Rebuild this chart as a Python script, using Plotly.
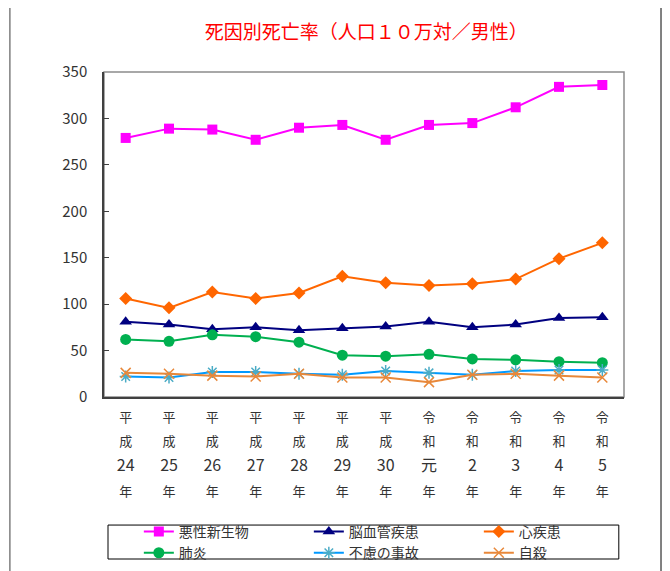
import plotly.graph_objects as go

era = ["平成", "平成", "平成", "平成", "平成", "平成", "平成", "令和", "令和", "令和", "令和", "令和"]
nums = ["24", "25", "26", "27", "28", "29", "30", "元", "2", "3", "4", "5"]
categories = [f"{e}{n}年" for e, n in zip(era, nums)]

cancer = [279, 289, 288, 277, 290, 293, 277, 293, 295, 312, 334, 336]
cerebro = [81, 78, 73, 75, 72, 74, 76, 81, 75, 78, 85, 86]
heart = [106, 96, 113, 106, 112, 130, 123, 120, 122, 127, 149, 166]
pneumonia = [62, 60, 67, 65, 59, 45, 44, 46, 41, 40, 38, 37]
accident = [22, 21, 27, 27, 25, 24, 28, 26, 24, 28, 29, 29]
suicide = [26, 25, 23, 22, 25, 21, 21, 16, 24, 25, 23, 21]

yticks = [0, 50, 100, 150, 200, 250, 300, 350]

FONT = "Noto Sans CJK JP, Noto Sans, sans-serif"

def lab(e, n):
    c = "<span style='font-size:13px'>"
    d = "<span style='font-size:16px'>"
    return f"{c}{e[0]}</span><br>{c}{e[1]}</span><br>{d}{n}</span><br>{c}年</span>"

ticktext = [lab(e, n) for e, n in zip(era, nums)]

series = [
    ("悪性新生物", cancer, "#FF00FF", "#FF00FF", "square", 10),
    ("脳血管疾患", cerebro, "#000080", "#000080", "triangle-up", 11),
    ("心疾患", heart, "#FF6600", "#FF6600", "diamond", 10),
    ("肺炎", pneumonia, "#00B050", "#00B050", "circle", 11),
    ("不慮の事故", accident, "#0099FF", "#4BACC6", "asterisk-open", 10),
    ("自殺", suicide, "#E8883A", "#E8883A", "x-thin-open", 10),
]

fig = go.Figure()
for name, vals, lc, mc, sym, sz in series:
    fig.add_trace(go.Scatter(
        x=categories, y=vals, name=name, mode="lines+markers",
        line=dict(color=lc, width=2),
        marker=dict(symbol=sym, size=sz, color=mc,
                    line=dict(color=mc, width=1.5 if "open" in sym else 0)),
    ))

# outer frame
fig.add_shape(type="line", xref="paper", yref="paper", x0=-0.181, x1=-0.181, y0=1.216, y1=-0.6,
              line=dict(color="#7f7f7f", width=1.5))
fig.add_shape(type="line", xref="paper", yref="paper", x0=-0.181, x1=1.0712, y0=1.216, y1=1.216,
              line=dict(color="#333333", width=1))
fig.add_shape(type="line", xref="paper", yref="paper", x0=1.0712, x1=1.0712, y0=1.216, y1=-0.6,
              line=dict(color="#808080", width=2))
# plot area border (top/right)
fig.add_shape(type="rect", xref="paper", yref="paper", x0=0, x1=1, y0=0, y1=1,
              line=dict(color="#8c8c8c", width=1.5), layer="below")
# legend box
fig.add_shape(type="rect", xref="paper", yref="paper", x0=0.0077, x1=0.990, y0=-0.4985, y1=-0.394,
              line=dict(color="#000000", width=1), layer="below")

fig.update_layout(
    width=662, height=563,
    margin=dict(l=96, r=46, t=64, b=174, autoexpand=False),
    paper_bgcolor="white", plot_bgcolor="white",
    font=dict(family=FONT, color="#333333"),
    title=dict(text="死因別死亡率（人口１０万対／男性）", x=0.541, xanchor="center", y=0.9574, yanchor="middle",
               font=dict(family=FONT, size=19, color="#FF0000")),
    showlegend=True,
    legend=dict(orientation="h", x=0.067, y=-0.366, xanchor="left", yanchor="top",
                entrywidth=125, entrywidthmode="pixels",
                borderwidth=0, bgcolor="rgba(0,0,0,0)",
                font=dict(family=FONT, size=14, color="#333333"),
                tracegroupgap=0, itemsizing="trace"),
    xaxis=dict(type="category", tickmode="array", tickvals=categories, ticktext=ticktext,
               range=[-0.5, len(categories) - 0.5], autorange=False,
               showline=True, linecolor="#404040", linewidth=1.5, ticks="", showgrid=False,
               automargin=False,
               tickfont=dict(family=FONT, size=19, color="#333333"), tickangle=0),
    yaxis=dict(range=[0, 350], tickmode="array", tickvals=yticks, ticktext=[str(v) for v in yticks],
               showline=True, linecolor="#404040", linewidth=1.5, ticks="inside", ticklen=5,
               tickcolor="#404040", showgrid=False, zeroline=False, automargin=False,
               tickfont=dict(family=FONT, size=15, color="#333333"), ticklabelstandoff=12),
)

fig.write_html("out.html")
